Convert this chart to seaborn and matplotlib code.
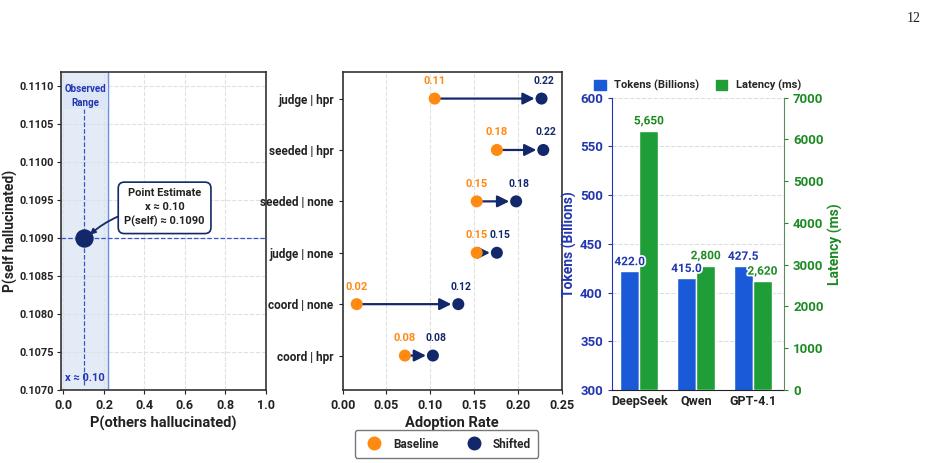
import numpy as np
import pandas as pd
import seaborn as sns
import matplotlib.pyplot as plt
import matplotlib.patheffects as pe
from matplotlib.lines import Line2D
from matplotlib.patches import Patch

# --- data ---
point_x = 0.10
point_y = 0.1090
range_hi = 0.222

conditions = ['judge | hpr', 'seeded | hpr', 'seeded | none',
              'judge | none', 'coord | none', 'coord | hpr']
baseline = [0.105, 0.176, 0.153, 0.153, 0.016, 0.071]
shifted = [0.227, 0.229, 0.198, 0.176, 0.132, 0.103]
baseline_labels = ['0.11', '0.18', '0.15', '0.15', '0.02', '0.08']
shifted_labels = ['0.22', '0.22', '0.18', '0.15', '0.12', '0.08']

models = ['DeepSeek', 'Qwen', 'GPT-4.1']
tokens = [422.0, 415.0, 427.5]
latency = [6200, 2970, 2600]
latency_labels = ['5,650', '2,800', '2,620']

ORANGE = '#ff8a12'
NAVY = '#13286b'
BLUE = '#1a5ad8'
GREEN = '#1f9e38'
TXT_BLUE = '#2236b0'
TXT_GREEN = '#1d8a24'

sns.set_style('white')
plt.rcParams['font.family'] = ['Liberation Sans Narrow', 'Roboto', 'DejaVu Sans']
plt.rcParams['font.weight'] = 'bold'
plt.rcParams['axes.labelweight'] = 'bold'

fig = plt.figure(figsize=(9.36, 4.63), dpi=100)
ax1 = fig.add_axes([0.0652, 0.1577, 0.2187, 0.686])
ax2 = fig.add_axes([0.3661, 0.1577, 0.2340, 0.686])
ax3 = fig.add_axes([0.6538, 0.1577, 0.1838, 0.6313])

for ax in (ax1, ax2):
    for s in ax.spines.values():
        s.set_color('#333333')
        s.set_linewidth(1.2)

# --- left panel ---
ax1.set_xlim(-0.012, 1.0)
ax1.set_ylim(0.1070, 0.11118)
ax1.axvspan(-0.012, range_hi, color='#dce6f6', alpha=0.8, zorder=0)
ax1.axvline(range_hi, color='#6d8fe0', lw=1.0, zorder=1)
ax1.plot([point_x, point_x], [0.10707, 0.11070], ls='--', color='#3a55c8', lw=0.9, zorder=2)
ax1.axhline(point_y, ls='--', color='#3a55c8', lw=0.9, zorder=2)
sns.scatterplot(x=[point_x], y=[point_y], ax=ax1, s=150, color=NAVY,
                edgecolor=NAVY, zorder=5, legend=False)
ax1.set_xticks(np.arange(0, 1.01, 0.2))
ax1.set_yticks(np.arange(0.1070, 0.11101, 0.0005))
ax1.set_yticklabels([f'{v:.4f}' for v in np.arange(0.1070, 0.11101, 0.0005)])
ax1.grid(True, ls='--', color='#e0e0e0', lw=0.8)
ax1.set_axisbelow(True)
ax1.tick_params(axis='y', labelsize=7.8, colors='#222222', length=3, left=True, pad=2)
ax1.tick_params(axis='x', labelsize=9, colors='#222222', length=3, bottom=True)
ax1.set_xlabel('P(others hallucinated)', fontsize=10.5, color='#222222', labelpad=3)
ax1.set_ylabel('P(self hallucinated)', fontsize=10, color='#222222')
ax1.yaxis.set_label_coords(-0.208, 0.5)
ax1.text(0.108, 0.11087, 'Observed\nRange', ha='center', va='center', fontsize=7,
         color=TXT_BLUE, fontweight='bold', linespacing=1.4,
         bbox=dict(boxstyle='square,pad=0.15', fc='#dce6f6', ec='none'))
ax1.text(0.108, 0.10716, 'x ≈ 0.10', ha='center', va='center', fontsize=8,
         color=TXT_BLUE, fontweight='bold')
ax1.annotate('Point Estimate\nx ≈ 0.10\nP(self) ≈ 0.1090',
             xy=(point_x + 0.02, point_y + 0.00002), xytext=(0.50, 0.10940),
             ha='center', va='center', fontsize=8, color='#222222', fontweight='bold',
             linespacing=1.5,
             bbox=dict(boxstyle='round,pad=0.55', fc='white', ec=NAVY, lw=1.2),
             arrowprops=dict(arrowstyle='-|>', color=NAVY, lw=1.3,
                             connectionstyle='arc3,rad=0.2', shrinkA=0, shrinkB=2),
             zorder=6)

# --- middle panel ---
ypos = np.arange(len(conditions))[::-1]
df = pd.DataFrame({
    'rate': baseline + shifted,
    'row': list(ypos) + list(ypos),
    'kind': ['Baseline'] * len(conditions) + ['Shifted'] * len(conditions),
})
for b, s, y in zip(baseline, shifted, ypos):
    ax2.annotate('', xy=(s, y), xytext=(b, y),
                 arrowprops=dict(arrowstyle='-|>,head_length=0.7,head_width=0.35',
                                 color=NAVY, lw=1.6, shrinkA=3, shrinkB=5), zorder=2)
sns.scatterplot(data=df, x='rate', y='row', hue='kind', ax=ax2, s=75,
                palette={'Baseline': ORANGE, 'Shifted': NAVY}, edgecolor='none',
                legend=False, zorder=3)
for b, s, y, bl, sl in zip(baseline, shifted, ypos, baseline_labels, shifted_labels):
    ax2.annotate(bl, (b, y), xytext=(0, 9), textcoords='offset points', ha='center',
                 va='bottom', fontsize=8, color=ORANGE, fontweight='bold')
    ax2.annotate(sl, (s, y), xytext=(2, 9), textcoords='offset points', ha='center',
                 va='bottom', fontsize=7.5, color=NAVY, fontweight='bold')
ax2.set_xlim(0, 0.25)
ax2.set_ylim(-0.67, 5.51)
ax2.set_yticks(ypos)
ax2.set_yticklabels(conditions)
ax2.set_xticks(np.arange(0, 0.251, 0.05))
ax2.set_xticklabels([f'{v:.2f}' for v in np.arange(0, 0.251, 0.05)])
ax2.xaxis.grid(True, ls='--', color='#e0e0e0', lw=0.8)
ax2.set_axisbelow(True)
ax2.tick_params(axis='y', labelsize=8.5, colors='#222222', length=3, left=True)
ax2.tick_params(axis='x', labelsize=9, colors='#222222', length=3, bottom=True)
ax2.set_xlabel('Adoption Rate', fontsize=10.5, color='#222222', labelpad=3)
ax2.set_ylabel('')

# --- right panel ---
xpos = np.arange(len(models))
w = 0.335
ax3.bar(xpos - w / 2, tokens, width=w, color=BLUE, zorder=2)
ax3.set_ylim(300, 600)
ax3.set_xlim(-0.48, 2.55)
ax3.set_xticks(xpos)
ax3.set_xticklabels(models)
ax3.yaxis.grid(True, ls='--', color='#dddddd', lw=0.8)
ax3.set_axisbelow(True)
ax3.set_ylabel('Tokens (Billions)', fontsize=10, color=TXT_BLUE, labelpad=2)
ax3.tick_params(axis='y', colors=TXT_BLUE, labelsize=9.5, length=3, left=True)
ax3.tick_params(axis='x', colors='#222222', labelsize=9, length=0)
ax3.spines['left'].set_color(TXT_BLUE)
ax3.spines['bottom'].set_color('#222222')
ax3.spines['top'].set_visible(False)
ax3.spines['right'].set_visible(False)

ax4 = ax3.twinx()
ax4.bar(xpos + w / 2, latency, width=w, color=GREEN, zorder=2)
ax4.set_ylim(0, 7000)
ax4.set_yticks(np.arange(0, 7001, 1000))
for x, v, lab in zip(xpos, latency, latency_labels):
    ax4.text(x + w / 2, v + 90, lab, ha='center', va='bottom', fontsize=8.5,
             color=TXT_GREEN, fontweight='bold',
             path_effects=[pe.withStroke(linewidth=2.5, foreground='white')], zorder=4)
# token labels drawn on the top axes so the green bars do not hide them
for x, v in zip(xpos, tokens):
    ax4.text(x - w / 2, v + 3, f'{v:.1f}', transform=ax3.transData, ha='center',
             va='bottom', fontsize=8.5, color=TXT_BLUE, fontweight='bold',
             path_effects=[pe.withStroke(linewidth=2.5, foreground='white')], zorder=5)
ax4.set_ylabel('Latency (ms)', fontsize=10, color=TXT_GREEN, labelpad=3)
ax4.tick_params(axis='y', colors=TXT_GREEN, labelsize=9.5, length=3, right=True)
ax4.spines['right'].set_color('#5f8a5f')
ax4.spines['left'].set_visible(False)
ax4.spines['top'].set_visible(False)
ax4.spines['bottom'].set_visible(False)
ax4.grid(False)

ax3.legend(handles=[Patch(color=BLUE, label='Tokens (Billions)'),
                    Patch(color=GREEN, label='Latency (ms)')],
           loc='lower center', bbox_to_anchor=(0.5, 1.0), ncol=2, frameon=False,
           fontsize=8, handlelength=1.0, handleheight=1.0, columnspacing=1.5,
           borderaxespad=0.2)

# --- bottom legend ---
fig.legend(handles=[Line2D([], [], marker='o', ls='', color=ORANGE, markersize=9, label='Baseline'),
                    Line2D([], [], marker='o', ls='', color=NAVY, markersize=9, label='Shifted')],
           loc='center', bbox_to_anchor=(0.477, 0.041), ncol=2, frameon=True,
           fontsize=8.5, edgecolor='#555555', fancybox=True, columnspacing=2.0,
           handletextpad=0.6, borderpad=0.6)

fig.text(0.984, 0.975, '12', ha='right', va='top', fontsize=10, color='#222222',
         family=['Liberation Serif', 'DejaVu Serif'], fontweight='normal')

fig.savefig('out.png', dpi=100)
